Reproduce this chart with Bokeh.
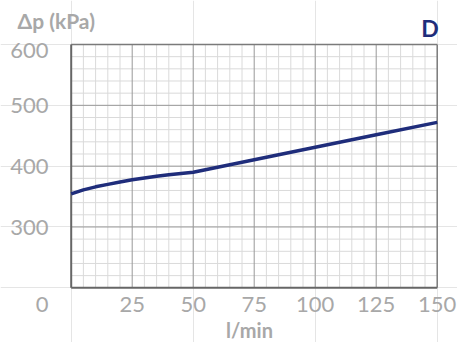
from bokeh.plotting import figure
from bokeh.models import Range1d
from bokeh.core.properties import value
from bokeh.embed import file_html
from bokeh.resources import INLINE

# data
flow = [0, 5, 10, 15, 20, 25, 30, 35, 40, 45, 50, 75, 100, 125, 150]
dp = [354.5, 361, 366, 370, 374, 377.5, 380.5, 383.5, 386, 388, 390, 410.5, 431, 451.5, 472]

# axes
x_ticks = [0, 25, 50, 75, 100, 125, 150]
x_tick_labels = ["0", "25", "50", "75", "100", "125", "150"]
y_ticks = [300, 400, 500, 600]
y_tick_labels = ["300", "400", "500", "600"]
x_min, x_max = 0, 150
y_min, y_max = 200, 600
x_minor_step, y_minor_step = 5, 20
x_title = "l/min"
y_title = "Δp (kPa)"
panel_tag = "D"

GRAY = "#a8a8a8"
NAVY = "#1f2d7b"
FONT = "Lato"

# plot area placement inside the canvas (pixels from the canvas' top-left corner)
W, H = 457, 342
left, right, top, bottom = 70.7, 436.7, 44.0, 287.3
sx = (right - left) / (x_max - x_min)
sy = (bottom - top) / (y_max - y_min)
xr = Range1d(x_min - left / sx, x_max + (W - right) / sx)
yr = Range1d(y_min - (H - bottom) / sy, y_max + top / sy)

p = figure(width=W, height=H, output_backend="svg", toolbar_location=None,
           x_range=xr, y_range=yr, x_axis_location=None, y_axis_location=None,
           min_border=0)
p.outline_line_color = None
p.background_fill_color = "white"
p.border_fill_color = "white"

# minor grid
xm = [v for v in range(x_min + x_minor_step, x_max, x_minor_step) if v not in x_ticks]
ym = [v for v in range(y_min + y_minor_step, y_max, y_minor_step) if v not in y_ticks]
p.segment(x0=xm, y0=[y_min] * len(xm), x1=xm, y1=[y_max] * len(xm), line_color="#dadada", line_width=1)
p.segment(x0=[x_min] * len(ym), y0=ym, x1=[x_max] * len(ym), y1=ym, line_color="#dadada", line_width=1)
# major grid
xM = [v for v in x_ticks if x_min < v < x_max]
yM = [v for v in y_ticks if y_min < v < y_max]
p.segment(x0=xM, y0=[y_min] * len(xM), x1=xM, y1=[y_max] * len(xM), line_color="#999999", line_width=1)
p.segment(x0=[x_min] * len(yM), y0=yM, x1=[x_max] * len(yM), y1=yM, line_color="#999999", line_width=1)
# frame
p.segment(x0=[x_min, x_max], y0=[y_max, y_min], x1=[x_max, x_max], y1=[y_max, y_max],
          line_color="#7a7a7a", line_width=1.5)
p.segment(x0=[x_min, x_min], y0=[y_min, y_min], x1=[x_min, x_max], y1=[y_max, y_min],
          line_color="#666666", line_width=2)

# curve
p.line(flow, dp, line_color=NAVY, line_width=3.5)

tick_font = dict(text_font=value(FONT), text_font_size="22px", text_color=GRAY,
                 text_baseline="alphabetic")
# y tick labels (top one sits a bit lower)
p.text(x=[x_min] * 3, y=y_ticks[:3], text=y_tick_labels[:3], text_align="right",
       x_offset=-22.7, y_offset=0.5, **tick_font)
p.text(x=[x_min], y=y_ticks[3:], text=y_tick_labels[3:], text_align="right",
       x_offset=-22.7, y_offset=6, **tick_font)
# x tick labels (origin label moved left)
p.text(x=x_ticks[1:], y=[y_min] * 6, text=x_tick_labels[1:], text_align="center",
       x_offset=0, y_offset=16.7, **tick_font)
p.text(x=x_ticks[:1], y=[y_min], text=x_tick_labels[:1], text_align="right",
       x_offset=-22.7, y_offset=16.7, **tick_font)

# axis titles and tag
p.text(x=[(x_min + x_max) / 2], y=[y_min], text=[x_title], text_align="center",
       text_baseline="alphabetic", x_offset=-4.7, y_offset=41.7, text_font=value(FONT),
       text_font_style="bold", text_font_size="20px", text_color=GRAY)
p.text(x=[x_min], y=[y_max], text=[y_title], text_align="left",
       text_baseline="alphabetic", x_offset=-53.7, y_offset=-24, text_font=value(FONT),
       text_font_style="bold", text_font_size="21px", text_color=GRAY)
p.text(x=[x_max], y=[y_max], text=[panel_tag], text_align="right",
       text_baseline="alphabetic", x_offset=1.5, y_offset=-17, text_font=value(FONT),
       text_font_style="bold", text_font_size="23px", text_color=NAVY)

open("out.html", "w").write(file_html(p, INLINE))
